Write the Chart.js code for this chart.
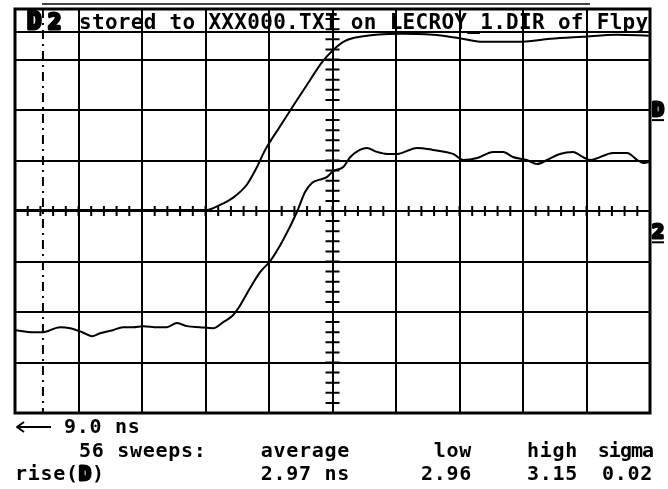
<!DOCTYPE html>
<html>
<head>
<meta charset="utf-8">
<script src="https://cdn.jsdelivr.net/npm/chart.js@4.4.1/dist/chart.umd.min.js"></script>
<style>
html, body { margin: 0; padding: 0; background: #fff; }
#wrap { width: 668px; height: 489px; position: relative; }
</style>
</head>
<body>
<div id="wrap"><canvas id="scope"></canvas></div>
<script>
// scope screen: 10 x 8 divisions, all trace values in divisions
const upperX = [0, 1.34, 2.13, 3.02, 3.23, 3.43, 3.65, 3.81, 3.94, 4.17, 4.41, 4.65, 4.83, 5.01, 5.20, 5.43, 6.06, 6.58, 6.96, 7.37, 7.91, 8.43, 8.94, 9.48, 9.98];
const upperY = [0.02, 0.02, 0.02, 0.02, 0.12, 0.26, 0.52, 0.87, 1.21, 1.67, 2.14, 2.60, 2.94, 3.19, 3.37, 3.45, 3.51, 3.49, 3.43, 3.35, 3.35, 3.41, 3.45, 3.49, 3.47];

const lowerX = [0, 0.28, 0.44, 0.71, 0.87, 1.06, 1.21, 1.34, 1.54, 1.70, 1.86, 2.02, 2.24, 2.39, 2.55, 2.71, 2.91, 3.12, 3.28, 3.42, 3.54, 3.70, 3.86, 4.02, 4.22, 4.44, 4.57, 4.68, 4.80, 4.91, 5.01, 5.17, 5.28, 5.43, 5.54, 5.70, 5.86, 6.02, 6.33, 6.58, 6.90, 7.06, 7.28, 7.53, 7.69, 7.84, 8.06, 8.22, 8.38, 8.58, 8.79, 8.94, 9.06, 9.42, 9.64, 9.80, 9.89, 9.98];
const lowerY = [-2.36, -2.40, -2.40, -2.30, -2.32, -2.40, -2.48, -2.42, -2.36, -2.30, -2.30, -2.28, -2.30, -2.30, -2.22, -2.28, -2.30, -2.32, -2.20, -2.08, -1.88, -1.53, -1.21, -0.99, -0.58, -0.02, 0.38, 0.56, 0.62, 0.67, 0.79, 0.87, 1.07, 1.21, 1.25, 1.17, 1.13, 1.13, 1.25, 1.21, 1.13, 1.01, 1.05, 1.17, 1.17, 1.07, 1.01, 0.93, 1.01, 1.13, 1.17, 1.07, 1.01, 1.15, 1.15, 1.01, 0.95, 0.97];

const triggerPos = 0.44;
const refMarkers = [{ label: 'D', level: 1.8 }, { label: '2', level: -0.62 }];

const headerLabel = 'stored to XXX000.TXT on LECROY_1.DIR of Flpy';
const delayLabel = '9.0 ns';
const statHeads = ['56 sweeps:', 'average', 'low', 'high', 'sigma'];
const statValues = ['2.97 ns', '2.96', '3.15', '0.02'];

const MONO = '"DejaVu Sans Mono", "Liberation Mono", monospace';

function txt(ctx, s, x, y, size, spacing, align) {
    ctx.font = 'bold ' + size + 'px ' + MONO;
    ctx.letterSpacing = spacing + 'px';
    ctx.textAlign = align || 'left';
    ctx.textBaseline = 'alphabetic';
    ctx.fillText(s, x, y);
}

function heavy(ctx, s, x, y, size) {
    ctx.font = 'bold ' + size + 'px ' + MONO;
    ctx.letterSpacing = '0px';
    ctx.textAlign = 'left';
    ctx.textBaseline = 'alphabetic';
    ctx.lineWidth = 3;
    ctx.lineJoin = 'round';
    ctx.strokeText(s, x, y);
    ctx.fillText(s, x, y);
}

const screenPlugin = {
    id: 'screen',
    beforeDatasetsDraw(chart) {
        const ctx = chart.ctx;
        const xs = chart.scales.x, ys = chart.scales.y;
        const a = chart.chartArea;
        ctx.save();
        ctx.strokeStyle = '#000';
        ctx.lineWidth = 2;
        // ticks on the center axes
        const cy = ys.getPixelForValue(0), cx = xs.getPixelForValue(5);
        ctx.beginPath();
        for (let v = 0; v <= 10.001; v += 0.2) {
            const px = xs.getPixelForValue(v);
            ctx.moveTo(px, cy - 5); ctx.lineTo(px, cy + 5);
        }
        for (let v = -4; v <= 4.001; v += 0.2) {
            const py = ys.getPixelForValue(v);
            ctx.moveTo(cx - 7, py); ctx.lineTo(cx + 7, py);
        }
        ctx.stroke();
        // trigger marker
        const tx = xs.getPixelForValue(triggerPos);
        ctx.setLineDash([9, 5, 2, 5]);
        ctx.beginPath();
        ctx.moveTo(tx, a.top); ctx.lineTo(tx, a.bottom);
        ctx.stroke();
        ctx.setLineDash([]);
        // outer frame
        ctx.lineWidth = 3;
        ctx.strokeRect(a.left, a.top, a.right - a.left, a.bottom - a.top);
        // header bar line
        ctx.lineWidth = 2;
        ctx.beginPath();
        ctx.moveTo(a.left, a.top + 23); ctx.lineTo(a.right, a.top + 23);
        ctx.stroke();
        ctx.restore();
    },
    afterDraw(chart) {
        const ctx = chart.ctx;
        const ys = chart.scales.y;
        const a = chart.chartArea;
        ctx.save();
        ctx.fillStyle = '#000';
        ctx.strokeStyle = '#000';

        // thin bar above header
        ctx.strokeStyle = '#444';
        ctx.lineWidth = 2;
        ctx.beginPath();
        ctx.moveTo(42, 4); ctx.lineTo(590, 4);
        ctx.stroke();
        ctx.strokeStyle = '#000';

        // header
        heavy(ctx, 'D', a.left + 12, a.top + 20, 24);
        heavy(ctx, '2', a.left + 33, a.top + 20, 22);
        txt(ctx, headerLabel, a.left + 64, a.top + 20, 21, 0.3);

        // reference markers on the right
        refMarkers.forEach(m => {
            const py = ys.getPixelForValue(m.level);
            ctx.lineWidth = 2;
            ctx.beginPath();
            ctx.moveTo(a.right + 2, py); ctx.lineTo(a.right + 14, py);
            ctx.stroke();
            heavy(ctx, m.label, a.right + 2, py - 4, 20);
        });

        // bottom readout
        const x0 = a.left;
        ctx.lineWidth = 2;
        ctx.beginPath();
        ctx.moveTo(x0 + 2, 427); ctx.lineTo(x0 + 36, 427);
        ctx.moveTo(x0 + 9, 422); ctx.lineTo(x0 + 2, 427); ctx.lineTo(x0 + 9, 432);
        ctx.stroke();
        txt(ctx, delayLabel, x0 + 49, 433, 20, 0.7);

        txt(ctx, statHeads[0], x0 + 64, 457, 20, 0.7);
        txt(ctx, statHeads[1], 350, 457, 20, 0.7, 'right');
        txt(ctx, statHeads[2], 472, 457, 20, 0.7, 'right');
        txt(ctx, statHeads[3], 578, 457, 20, 0.7, 'right');
        txt(ctx, statHeads[4], 653, 457, 20, -1, 'right');

        txt(ctx, 'rise(', x0, 480, 20, 0.7);
        heavy(ctx, 'D', x0 + 64, 480, 20);
        txt(ctx, ')', x0 + 77, 480, 20, 0.7);
        txt(ctx, statValues[0], 350, 480, 20, 0.7, 'right');
        txt(ctx, statValues[1], 472, 480, 20, 0.7, 'right');
        txt(ctx, statValues[2], 578, 480, 20, 0.7, 'right');
        txt(ctx, statValues[3], 653, 480, 20, 0.7, 'right');
        ctx.restore();
    }
};

const ctx = document.getElementById('scope').getContext('2d');
new Chart(ctx, {
    type: 'scatter',
    data: {
        datasets: [
            { data: upperX.map((x, i) => ({ x, y: upperY[i] })), showLine: true, borderColor: '#000', borderWidth: 2, pointRadius: 0, cubicInterpolationMode: 'monotone' },
            { data: lowerX.map((x, i) => ({ x, y: lowerY[i] })), showLine: true, borderColor: '#000', borderWidth: 2, pointRadius: 0, cubicInterpolationMode: 'monotone' }
        ]
    },
    options: {
        responsive: true,
        maintainAspectRatio: false,
        animation: false,
        layout: { padding: { left: 15, right: 18, top: 9, bottom: 76 } },
        plugins: { legend: { display: false }, tooltip: { enabled: false } },
        scales: {
            x: { type: 'linear', min: 0, max: 10, ticks: { display: false, stepSize: 1 }, grid: { color: '#000', lineWidth: 2, drawTicks: false }, border: { display: false } },
            y: { type: 'linear', min: -4, max: 4, ticks: { display: false, stepSize: 1 }, grid: { color: '#000', lineWidth: 2, drawTicks: false }, border: { display: false } }
        }
    },
    plugins: [screenPlugin]
});
</script>
</body>
</html>
